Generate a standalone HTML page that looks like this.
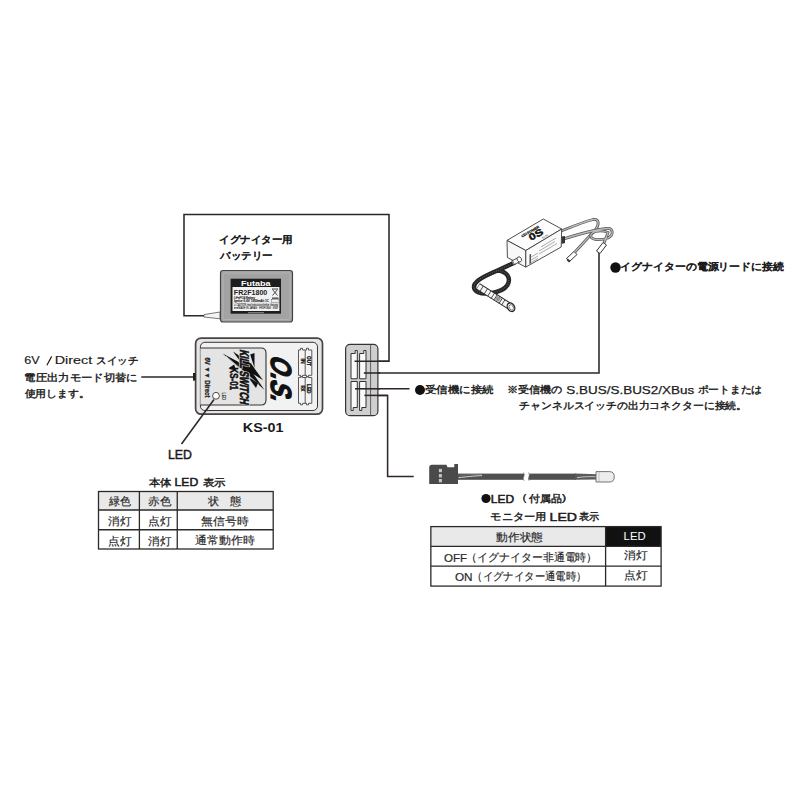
<!DOCTYPE html>
<html><head><meta charset="utf-8">
<style>
html,body{margin:0;padding:0;background:#fff;width:800px;height:800px;overflow:hidden}
svg{position:absolute;left:0;top:0}
text{font-family:"Liberation Sans",sans-serif;fill:#1a1a1a}
.b{font-weight:bold}
.jm{stroke:#1a1a1a;stroke-width:0.38}
.m{stroke:#1a1a1a;stroke-width:0.15}
.w{fill:none;stroke:#2e2628;stroke-width:1.55}
.tl{stroke:#2a2a2a;stroke-width:1.3;fill:none}
.tt text{fill:#2a2a2a;stroke:#2a2a2a;stroke-width:0.18}
</style></head><body>
<svg width="800" height="800" viewBox="0 0 800 800">

<!-- wires -->
<path class="w" d="M204,315.8 H184 V214.5 H389 V361.3 H354.5"/>
<path class="w" d="M363.8,373 H599 V253"/>
<path class="w" d="M355,388.8 H409.5"/>
<path class="w" d="M364.4,395.4 H387.6 V476.5 H413.7"/>
<path class="w" d="M141.3,377 H194"/>

<!-- battery -->
<path d="M204,314.6 L220,312 L220,318.8 L204,317 Z" fill="#f4f4f4" stroke="#555" stroke-width="0.8"/>
<rect x="220.5" y="270.5" width="72" height="51.5" rx="2.5" fill="#a3a3a3" stroke="#444" stroke-width="1.2"/>
<rect x="223" y="273" width="67" height="46.5" rx="1.5" fill="none" stroke="#b8b8b8" stroke-width="0.8"/>
<rect x="230.6" y="278.7" width="50.4" height="35" fill="#1e1e1e"/>
<rect x="232.5" y="287" width="46.9" height="24" fill="#f2f2f2"/>
<text id="x1" x="241" y="286.2" font-size="7.5" class="b" style="fill:#fff" textLength="29.5" lengthAdjust="spacingAndGlyphs">Futaba</text>
<text id="x2" x="233.8" y="295.2" font-size="7.2" class="b" style="fill:#222" textLength="33.5" lengthAdjust="spacingAndGlyphs">FR2F1800</text>
<path d="M272.5,289.5 L277.5,295.5 M277.5,289.5 L272.5,295.5 M272,289 H278" stroke="#222" stroke-width="0.8" fill="none"/>
<text x="234" y="299.2" font-size="3.4" style="fill:#111;stroke:#111;stroke-width:0.15" textLength="21" lengthAdjust="spacingAndGlyphs">LiFePO4 Battery</text>
<text x="234" y="302" font-size="3.4" style="fill:#111;stroke:#111;stroke-width:0.15" textLength="35" lengthAdjust="spacingAndGlyphs">Ignitor 6.6V 1800mAh 1C</text>
<rect x="272" y="297.6" width="6.5" height="1.1" fill="#222"/>
<rect x="271.5" y="299.6" width="7.5" height="2.6" fill="none" stroke="#666" stroke-width="0.5"/>
<path d="M233.5,303.2 H279" stroke="#999" stroke-width="0.4"/>
<text x="234" y="306" font-size="3.4" style="fill:#222;stroke:#222;stroke-width:0.1" textLength="44" lengthAdjust="spacingAndGlyphs">⚠ CAUTION: read instructions before charging</text>
<text x="234" y="309.3" font-size="3.4" style="fill:#222;stroke:#222;stroke-width:0.1" textLength="44" lengthAdjust="spacingAndGlyphs">■ ■ MADE IN JAPAN · FR2F1800 · 6.6V</text>
<rect x="248" y="312" width="16" height="1.3" fill="#777"/>
<!-- battery label -->
<text lengthAdjust="spacingAndGlyphs" textLength="73.34" id="x4" x="219.24" y="243.1" font-size="10" class="jm" style="stroke-width:0.6">イグナイター用</text>
<text lengthAdjust="spacingAndGlyphs" textLength="52.18" id="x5" x="220.4" y="259.1" font-size="10" class="jm" style="stroke-width:0.6">バッテリー</text>

<!-- left label -->
<text lengthAdjust="spacingAndGlyphs" textLength="15.46" id="x6a" x="24.26" y="364.1" font-size="11" class="m">6V</text>
<path d="M46.9,365.2 L51.7,356.4" stroke="#1a1a1a" stroke-width="1.15"/>
<text lengthAdjust="spacingAndGlyphs" textLength="37.46" id="x6c" x="54.7" y="364.1" font-size="11" class="m">Direct</text>
<text lengthAdjust="spacingAndGlyphs" textLength="42.06" id="x6d" x="96.45" y="363.6" font-size="10.3" class="jm">スイッチ</text>
<text lengthAdjust="spacingAndGlyphs" textLength="113.31" id="x7" x="24.23" y="380.6" font-size="10.3" class="jm">電圧出力モード切替に</text>
<text lengthAdjust="spacingAndGlyphs" textLength="65.24" id="x8" x="24.5" y="396.6" font-size="10.3" class="jm">使用します。</text>

<!-- KS-01 device -->
<rect x="195.6" y="338.1" width="126.9" height="76.1" rx="5.5" fill="#e4e6e4" stroke="#4a4245" stroke-width="1.7"/>
<rect x="200.4" y="342.3" width="117.1" height="68.2" rx="4.5" fill="#f2f2f2" stroke="#3a3535" stroke-width="1"/>
<path d="M200.4,348 H261 Q266,348 266,353 V400 Q266,405 261,405 H200.4" fill="#e4e4e4" stroke="#333" stroke-width="1.1"/>
<rect x="193" y="373" width="2.6" height="7.6" fill="#222"/>
<!-- 6V Direct rotated -->
<text id="x9" transform="translate(204.8,357.5) rotate(90)" font-size="6.8" class="b" style="fill:#222;stroke:#222;stroke-width:0.3" textLength="40" lengthAdjust="spacingAndGlyphs">6V ▼▼ Direct</text>
<circle cx="216" cy="395.8" r="3.4" fill="#fff" stroke="#333" stroke-width="0.9"/>
<text id="x10" transform="translate(221.5,392.5) rotate(90)" font-size="4.6" class="b" style="fill:#333" textLength="7.5" lengthAdjust="spacingAndGlyphs">LED</text>
<!-- logo -->
<path d="M222.5,353.6 L249,367.5 L264.5,390 L245.5,373 Z" fill="#111"/>
<path d="M233,351.4 L251,363.5 L263,380.3 L246,369.5 Z" fill="#111"/>
<path d="M226,356.2 L259,384.5" stroke="#e8e8e8" stroke-width="0.7"/>
<path d="M250.2,354.4 L254.5,353 L254.5,368 Z" fill="#111"/>
<path d="M228.5,368.3 L234.2,364.5 L236,370.5 Z" fill="#111"/>
<path d="M248,377 L258,383 L256,388 Z" fill="#111"/>
<text transform="translate(239.5,349.2) rotate(90) skewX(-12)" font-size="12.5" class="b" style="fill:#e4e4e4;stroke:#e4e4e4;stroke-width:2" textLength="54.5" lengthAdjust="spacingAndGlyphs">KILL SWITCH</text>
<text id="x11" transform="translate(239.5,349.2) rotate(90) skewX(-12)" font-size="12.5" class="b" style="fill:#111;stroke:#111;stroke-width:0.7" textLength="54.5" lengthAdjust="spacingAndGlyphs">KILL SWITCH</text>
<text id="x12" transform="translate(230.3,367.5) rotate(90)" font-size="10.5" class="b" style="fill:#111;stroke:#111;stroke-width:0.5" textLength="22.5" lengthAdjust="spacingAndGlyphs">KS-01</text>
<!-- OS logo -->
<text id="x13" transform="translate(294,353) rotate(90) skewX(-20)" font-size="31" class="b" style="fill:#111;font-style:italic" textLength="45" lengthAdjust="spacingAndGlyphs" dominant-baseline="hanging"></text>
<g transform="translate(271,353) rotate(90) skewX(-22)">
<text id="x13b" x="0.5" y="-0.5" font-size="29" class="b" style="fill:#111;stroke:#111;stroke-width:1.2" textLength="46" lengthAdjust="spacingAndGlyphs">O.S.</text>
</g>
<!-- connector labels -->
<g stroke="#333" stroke-width="0.8" fill="#f4f4f4">
<path d="M298.5,350 H300.5 V348.3 H302.5 V350 H306.5 V348.3 H308.5 V350 H311.8 V375.3 H308.5 V376.5 H306.5 V375.3 H302.5 V376.5 H300.5 V375.3 H298.5 Z"/>
<path d="M298.5,377.5 H300.5 V376.8 H302.5 V377.5 H306.5 V376.8 H308.5 V377.5 H311.8 V403.3 H308.5 V404.8 H306.5 V403.3 H302.5 V404.8 H300.5 V403.3 H298.5 Z"/>
<path d="M305.2,350 V375.3 M305.2,377.5 V403.3"/>
</g>
<text id="x14" transform="translate(307.3,356) rotate(90)" font-size="5.6" class="b" style="fill:#111;stroke:#111;stroke-width:0.3" textLength="10" lengthAdjust="spacingAndGlyphs">OUT</text>
<text id="x15" transform="translate(300.8,358.5) rotate(90)" font-size="5.6" class="b" style="fill:#111;stroke:#111;stroke-width:0.3" textLength="5" lengthAdjust="spacingAndGlyphs">IN</text>
<text id="x16" transform="translate(307.3,384) rotate(90)" font-size="5.6" class="b" style="fill:#111;stroke:#111;stroke-width:0.3" textLength="9.5" lengthAdjust="spacingAndGlyphs">LED</text>
<text id="x17" transform="translate(300.8,385.5) rotate(90)" font-size="5.6" class="b" style="fill:#111;stroke:#111;stroke-width:0.3" textLength="6" lengthAdjust="spacingAndGlyphs">RX</text>
<path class="w" d="M214,399.5 L181.5,444"/>

<text lengthAdjust="spacingAndGlyphs" textLength="40.65" id="x18" x="242.85" y="432.0" font-size="12.5" class="b">KS-01</text>
<text lengthAdjust="spacingAndGlyphs" textLength="23.91" id="x19" x="167.97" y="459.0" font-size="12.0" class="m" style="stroke-width:0.45">LED</text>

<!-- connector block -->
<rect x="345.6" y="344.3" width="32.3" height="71.4" rx="4.5" fill="#cfcfcf" stroke="#333" stroke-width="1.2"/>
<path d="M370.6,344.5 V415.5" stroke="#555" stroke-width="0.9"/>
<g fill="#fafafa" stroke="#333" stroke-width="1">
<path d="M351,353.5 H355.2 V350.5 H357.3 V378.8 H351 Z"/>
<path d="M359.6,353.5 H363.8 V350.5 H366 V378.8 H359.6 Z"/>
<path d="M351,381.5 H357.3 V407.5 H353.2 V410.5 H351 Z"/>
<path d="M359.6,381.5 H366 V407.5 H361.8 V410.5 H359.6 Z"/>
</g>
<!-- redraw wire ends over connector -->
<path class="w" d="M389,361.3 H354.5"/>
<path class="w" d="M363.8,373 H380"/>
<path class="w" d="M355,388.8 H380"/>
<path class="w" d="M364.4,395.4 H387.6"/>

<!-- receiver note -->
<circle cx="420" cy="390" r="5" fill="#111"/>
<text lengthAdjust="spacingAndGlyphs" textLength="68.77" id="x20" x="424.98" y="392.75" font-size="10.2" class="jm">受信機に接続</text>
<text lengthAdjust="spacingAndGlyphs" textLength="55.51" id="x21a" x="506.69" y="392.8" font-size="10.2" class="jm">※受信機の</text>
<text lengthAdjust="spacingAndGlyphs" textLength="127.81" id="x21b" x="566.38" y="393.5" font-size="11.8" class="m" style="stroke-width:0.25">S.BUS/S.BUS2/XBus</text>
<text lengthAdjust="spacingAndGlyphs" textLength="64.78" id="x21c" x="697.5" y="392.8" font-size="10.2" class="jm">ポートまたは</text>
<text lengthAdjust="spacingAndGlyphs" textLength="227.58" id="x22" x="519.46" y="409.0" font-size="10.2" class="jm">チャンネルスイッチの出力コネクターに接続。</text>

<!-- ignitor lead label -->
<circle cx="615.5" cy="267.5" r="5.2" fill="#111"/>
<text lengthAdjust="spacingAndGlyphs" textLength="163.35" id="x23" x="620.4" y="270.25" font-size="10.2" class="jm" style="stroke-width:0.6">イグナイターの電源リードに接続</text>

<!-- ignitor device -->
<!-- output cables -->
<g fill="none" stroke-linecap="round" stroke-linejoin="round">
<path id="c1" d="M561,231 C574,226 586,221 593,219.5 C599,218.5 599.5,224 596,229 L575,252"/>
<path id="c2" d="M562,239.5 C576,235 597,229.5 607,228.5 C613.5,228 614,235 608,238 C599,241 589,240 591,234.5 C593,230.5 602,230 608,232.5 L604,243"/>
</g>
<use href="#c1" stroke="#555" stroke-width="2.8" fill="none"/>
<use href="#c1" stroke="#bbb" stroke-width="1.3" fill="none"/>
<use href="#c2" stroke="#555" stroke-width="2.8" fill="none"/>
<use href="#c2" stroke="#bbb" stroke-width="1.3" fill="none"/>
<path d="M574,251.5 L566.5,258.5 L569.5,261.5 L577,254.5 Z" fill="#fff" stroke="#333" stroke-width="1"/>
<path d="M567.8,258.5 L566.5,260 L569,262.5 L570.5,261 Z" fill="#333"/>
<path d="M603,242.5 L596.5,251 L600,253.5 L606.5,245 Z" fill="#fff" stroke="#333" stroke-width="1"/>
<path d="M561.5,236.5 L565,236 L565,243 L561.5,244 Z" fill="#333"/>
<!-- box -->
<g stroke="#3a3a3a" stroke-width="0.9" stroke-linejoin="round">
<path d="M507,240.4 L543.3,219 L561.7,229 L525.8,250.5 Z" fill="#fdfdfd"/>
<path d="M507,240.4 L525.8,250.5 L525.8,267.1 L507.4,257.5 Z" fill="#f8f8f8"/>
<path d="M525.8,250.5 L561.7,229 L561.2,247 L525.8,267.1 Z" fill="#fafafa"/>
</g>
<g transform="translate(536.5,234.5) rotate(-30)">
<text x="-8" y="3" font-size="9.5" class="b" style="fill:#111;stroke:#111;stroke-width:0.4" textLength="15" lengthAdjust="spacingAndGlyphs">0S</text>
<text x="-14" y="-4.5" font-size="3.4" class="b" style="fill:#111;stroke:#111;stroke-width:0.2" textLength="20" lengthAdjust="spacingAndGlyphs">CDI POWER</text>
<text x="3" y="7" font-size="2.6" style="fill:#555">6V/8V</text>
</g>
<g stroke="#777" stroke-width="0.6">
<path d="M529.5,258 L538,253 M529.5,261 L538,256 M529.5,263.5 L538,258.5 M539,254 L557,243.5 M539,251 L555,241.5 M541,247 L556,238"/>
</g>
<path d="M529.5,254.5 V264 L531,263.2 V253.8 Z" fill="#555"/>
<!-- grommet + loop cable -->
<g fill="none" stroke-linecap="round">
<path id="lc" d="M515,262.5 L497.5,270.5 C482,277 470.5,283 475,290 C480,296.5 502,293.5 507.5,285 C511.5,278 506.5,271 497.5,270.5"/>
</g>
<use href="#lc" stroke="#262626" stroke-width="4.4" fill="none"/>
<use href="#lc" stroke="#5a5a5a" stroke-width="1.4" stroke-dasharray="0.8,1.4" fill="none"/>
<path d="M512.5,263 L519.5,259.3" stroke="#333" stroke-width="5.2" stroke-linecap="butt"/>
<path d="M512.8,262.8 L519.3,259.4" stroke="#f5f5f5" stroke-width="3.6" stroke-linecap="butt"/>
<path d="M514.3,264.2 L512.4,260.6" stroke="#333" stroke-width="0.7"/>
<ellipse cx="519.3" cy="259.4" rx="2.1" ry="2.7" transform="rotate(-28 519.3 259.4)" fill="#fff" stroke="#333" stroke-width="0.8"/>
<!-- connector tube -->
<path d="M478,286.3 L510.5,306.8" stroke="#2a2a2a" stroke-width="7" stroke-linecap="butt"/>
<path d="M478.3,286.5 L510.2,306.6" stroke="#f6f6f6" stroke-width="5.2" stroke-linecap="butt"/>
<g stroke="#333" stroke-width="0.9">
<path d="M483.3,286 L479.9,291.4 M487.5,288.7 L484.1,294.1 M491,290.9 L487.6,296.3 M494.5,293.1 L491.1,298.5 M497.2,294.8 L493.8,300.2 M499.8,296.4 L496.4,301.8 M502.4,298.1 L499,303.5 M505,299.7 L501.6,305.1"/>
</g>
<path d="M496,297.5 L500,300" stroke="#999" stroke-width="4"/>
<ellipse cx="511" cy="307.2" rx="3.4" ry="4.6" transform="rotate(-33 511 307.2)" fill="#fff" stroke="#222" stroke-width="1.3"/>
<ellipse cx="511.3" cy="307.4" rx="2" ry="2.9" transform="rotate(-33 511.3 307.4)" fill="none" stroke="#444" stroke-width="0.7"/>

<!-- LED cable -->
<path d="M429.2,467.5 Q429.2,464.8 432,464.8 H446.5 L447.5,467.3 H454.3 V464 H458 V483.9 H429.2 Z" fill="#4a4a4a"/>
<rect x="438.9" y="468.9" width="3" height="3.3" fill="#c8c8c8"/>
<rect x="438.9" y="474.1" width="3" height="3.3" fill="#c8c8c8"/>
<rect x="438.9" y="479" width="3" height="3.3" fill="#c8c8c8"/>
<rect x="458" y="473.6" width="118" height="6.2" fill="#505050"/>
<path d="M458.5,477.6 C466,477 472,476 482,475.6" stroke="#e0e0e0" stroke-width="0.9" fill="none"/>
<path d="M458.5,475.3 C466,475 472,474.5 482,474.3" stroke="#888" stroke-width="0.6" fill="none"/>
<path d="M523,472.5 C526.5,474 521.5,478.5 524.5,481 L529.5,481 C526.5,478.5 531.5,474 528,472.5 Z" fill="#fff"/>
<path d="M523,472.5 C526.5,474 521.5,478.5 524.5,481 M528,472.5 C531.5,474 526.5,478.5 529.5,481" stroke="#777" stroke-width="0.6" fill="none"/>
<path d="M575,473.6 L597,474.2 L597,479.5 L575,479.8 Z" fill="#5a5a5a"/>
<path d="M577,477.6 C585,476.5 590,476.5 597,476.8" stroke="#ddd" stroke-width="0.8" fill="none"/>
<path d="M596,471.6 H609.5 Q614.3,471.6 614.3,476.8 Q614.3,482 609.5,482 H596 Z" fill="#ececec" stroke="#555" stroke-width="0.8"/>
<path d="M599,471.8 V481.8" stroke="#999" stroke-width="0.5"/>
<circle cx="486" cy="498.5" r="4.6" fill="#111"/>
<text lengthAdjust="spacingAndGlyphs" textLength="23.23" id="x25a" x="490.82" y="502.75" font-size="10.5" class="m" style="stroke-width:0.5">LED</text>
<text lengthAdjust="spacingAndGlyphs" textLength="12.84" id="x25c" x="515.23" y="500.9" font-size="10" class="jm">（</text>
<text lengthAdjust="spacingAndGlyphs" textLength="33.0" id="x25d" x="528.5" y="501.9" font-size="10" class="jm">付属品</text>
<text lengthAdjust="spacingAndGlyphs" textLength="15.21" id="x25e" x="560.03" y="500.9" font-size="10" class="jm">）</text>

<!-- table 1 -->
<text lengthAdjust="spacingAndGlyphs" textLength="22.95" id="x26a" x="149.0" y="485.8" font-size="10" class="jm">本体</text>
<text lengthAdjust="spacingAndGlyphs" textLength="23.71" id="x26b" x="174.53" y="486.4" font-size="11.3" class="m" style="stroke-width:0.5">LED</text>
<text lengthAdjust="spacingAndGlyphs" textLength="23.01" id="x26c" x="202.8" y="485.8" font-size="10" class="jm">表示</text>
<rect x="98.5" y="491.5" width="174.7" height="18.5" fill="#e9e9e9"/>
<g class="tl">
<rect x="98.5" y="491.5" width="174.7" height="57.5"/>
<path d="M98.5,510 H273.2 M98.5,529.75 H273.2 M139.4,491.5 V549 M177.25,491.5 V549"/>
</g>
<g class="tt">
<text lengthAdjust="spacingAndGlyphs" textLength="22.03" font-size="10.6" id="x27" x="109.0" y="505.25">緑色</text>
<text lengthAdjust="spacingAndGlyphs" textLength="22.99" font-size="10.6" id="x28" x="148.04" y="505.25">赤色</text>
<text lengthAdjust="spacingAndGlyphs" textLength="33.55" font-size="10.6" id="x29" x="207.74" y="505.25">状　態</text>
<text lengthAdjust="spacingAndGlyphs" textLength="23.13" font-size="10.6" id="x30" x="108.04" y="524.75">消灯</text>
<text lengthAdjust="spacingAndGlyphs" textLength="23.37" font-size="10.6" id="x31" x="147.83" y="524.75">点灯</text>
<text lengthAdjust="spacingAndGlyphs" textLength="47.24" font-size="10.6" id="x32" x="201.42" y="524.75">無信号時</text>
<text lengthAdjust="spacingAndGlyphs" textLength="23.37" font-size="10.6" id="x33" x="107.83" y="544.5">点灯</text>
<text lengthAdjust="spacingAndGlyphs" textLength="23.13" font-size="10.6" id="x34" x="148.04" y="544.5">消灯</text>
<text lengthAdjust="spacingAndGlyphs" textLength="59.5" font-size="10.6" id="x35" x="195.17" y="544.0">通常動作時</text>
</g>

<!-- table 2 -->
<text lengthAdjust="spacingAndGlyphs" textLength="56.25" id="x36a" x="490.37" y="519.74" font-size="10" class="jm">モニター用</text>
<text lengthAdjust="spacingAndGlyphs" textLength="27.41" id="x36b" x="549.6" y="521.0" font-size="11.5" class="m" style="stroke-width:0.5">LED</text>
<text lengthAdjust="spacingAndGlyphs" textLength="20.4" id="x36c" x="579.0" y="520.24" font-size="10" class="jm">表示</text>
<rect x="430.85" y="526.6" width="174.75" height="19.8" fill="#e9e9e9"/>
<rect x="605.6" y="526.6" width="55.5" height="19.8" fill="#111"/>
<g class="tl">
<rect x="430.85" y="526.6" width="230.25" height="59.5"/>
<path d="M430.85,546.4 H661.1 M430.85,566.15 H661.1 M605.6,526.6 V586.1"/>
</g>
<g class="tt">
<text lengthAdjust="spacingAndGlyphs" textLength="46.57" font-size="10.6" id="x37" x="496.32" y="541.0">動作状態</text>
<text lengthAdjust="spacingAndGlyphs" textLength="23.1" font-size="11" id="x38a" x="443.95" y="561.9">OFF</text>
<text lengthAdjust="spacingAndGlyphs" textLength="131.33" font-size="10.6" id="x38b" x="466.04" y="561.0">（イグナイター非通電時）</text>
<text lengthAdjust="spacingAndGlyphs" textLength="17.6" font-size="11" id="x39a" x="454.93" y="581.3">ON</text>
<text lengthAdjust="spacingAndGlyphs" textLength="114.03" font-size="10.6" id="x39b" x="472.38" y="580.0">（イグナイター通電時）</text>
<text lengthAdjust="spacingAndGlyphs" textLength="23.42" font-size="10.6" id="x40" x="623.8" y="559.0">消灯</text>
<text lengthAdjust="spacingAndGlyphs" textLength="23.42" font-size="10.6" id="x41" x="623.8" y="579.0">点灯</text>
<text font-size="11.5" id="x42" x="623.6" y="539.8" style="fill:#fff;stroke:none" textLength="22" lengthAdjust="spacingAndGlyphs">LED</text>
</g>
</svg>
</body></html>
